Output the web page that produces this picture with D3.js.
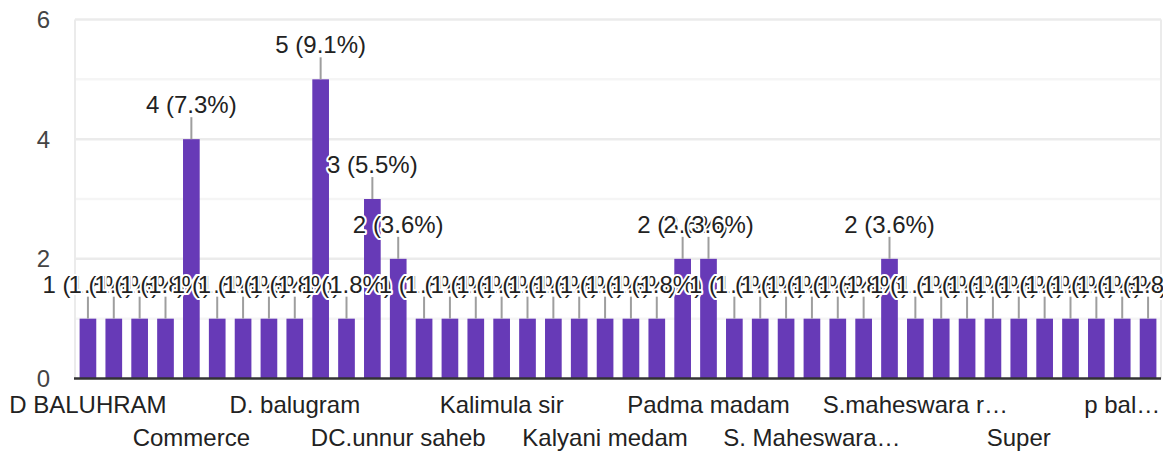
<script src="https://d3js.org/d3.v7.min.js"></script>
<style>
  body { margin: 0; background: #fff; }
  text { font-family: "Liberation Sans", Arial, sans-serif; }
</style>
<svg id="vis"></svg>
<script>
  // Data Setup
  var categories = [
    'D BALUHRAM', 'Balugram sir', 'Bhaskar sir', 'Chandra sir', 'Commerce',
    'D Balugram', 'D. Balugram sir', 'D. Baluhram', 'D. balugram', 'D.Balugram',
    'D.balugram sir', 'DC Unnur saheb', 'DC.unnur saheb', 'Economics', 'English',
    'Kalimula', 'Kalimula sir', 'Kalimulla sir', 'Kalyani madam', 'Kalyani mam',
    'Kalyani medam', 'Lakshmi madam', 'Maheswara reddy', 'Padma', 'Padma madam',
    'Padma mam', 'Ramesh sir', 'S Maheswara reddy', 'S. Maheswara reddy', 'S. maheswara sir',
    'S.Maheswara', 'S.maheswara reddy', 'S.maheswara reddy sir', 'Statistics', 'Sudha madam',
    'Sunitha madam', 'Super', 'Telugu', 'Unnur saheb', 'Venkatesh sir',
    'p balugram', 'unnur saheb sir'
  ];
  var counts = [
    1, 1, 1, 1, 4, 1, 1, 1, 1, 5,
    1, 3, 2, 1, 1, 1, 1, 1, 1, 1,
    1, 1, 1, 2, 2, 1, 1, 1, 1, 1,
    1, 2, 1, 1, 1, 1, 1, 1, 1, 1,
    1, 1
  ];
  var yTicks = [0, 2, 4, 6];
  var gridValues = [1, 2, 3, 4, 5, 6];

  var total = d3.sum(counts);
  var W = 1168, H = 455;
  var plotL = 75, plotR = 1161, plotT = 19.5, plotB = 378.5;

  var svg = d3.select('#vis')
    .attr('width', W)
    .attr('height', H);

  // labels get clipped just past the plot's right edge
  svg.append('clipPath').attr('id', 'labelClip')
    .append('rect')
    .attr('x', 0).attr('y', 0)
    .attr('width', plotR + 2).attr('height', H);

  var x = d3.scaleBand()
    .domain(d3.range(categories.length))
    .range([plotL, plotR])
    .paddingInner(0.355)
    .paddingOuter(0.1775);

  var y = d3.scaleLinear()
    .domain([0, 6])
    .range([plotB, plotT]);

  // gridlines
  svg.selectAll('.grid')
    .data(gridValues)
    .enter().append('line')
    .attr('x1', plotL).attr('x2', plotR)
    .attr('y1', function(d) { return y(d) })
    .attr('y2', function(d) { return y(d) })
    .attr('stroke', function(d) { return d % 2 === 0 ? '#ebebeb' : '#f5f5f5' })
    .attr('stroke-width', 2.5);

  // frame sides
  svg.selectAll('.side')
    .data([plotL, plotR])
    .enter().append('line')
    .attr('x1', function(d) { return d }).attr('x2', function(d) { return d })
    .attr('y1', plotT).attr('y2', plotB)
    .attr('stroke', '#ebebeb')
    .attr('stroke-width', 2);

  // y labels
  svg.selectAll('.ylab')
    .data(yTicks)
    .enter().append('text')
    .attr('x', 50)
    .attr('y', function(d) { return y(d) + 8.6 })
    .attr('text-anchor', 'end')
    .attr('font-size', 24)
    .attr('fill', '#444')
    .text(function(d) { return d });

  // bars
  svg.selectAll('.bar')
    .data(counts)
    .enter().append('rect')
    .attr('x', function(d, i) { return x(i) })
    .attr('y', function(d) { return y(d) })
    .attr('width', x.bandwidth())
    .attr('height', function(d) { return y(0) - y(d) })
    .attr('fill', '#673ab7');

  // zero axis
  svg.append('line')
    .attr('x1', plotL - 1).attr('x2', plotR)
    .attr('y1', y(0)).attr('y2', y(0))
    .attr('stroke', '#333')
    .attr('stroke-width', 2.5);

  // leader lines
  svg.selectAll('.lead')
    .data(counts)
    .enter().append('line')
    .attr('x1', function(d, i) { return x(i) + x.bandwidth() / 2 })
    .attr('x2', function(d, i) { return x(i) + x.bandwidth() / 2 })
    .attr('y1', function(d) { return y(d) })
    .attr('y2', function(d) { return y(d) - 22 })
    .attr('stroke', '#9e9e9e')
    .attr('stroke-width', 2);

  // data labels with white halo
  var labelG = svg.append('g').attr('clip-path', 'url(#labelClip)');
  counts.forEach(function(d, i) {
    labelG.append('text')
      .attr('x', x(i) + x.bandwidth() / 2)
      .attr('y', y(d) - 26)
      .attr('text-anchor', 'middle')
      .attr('font-size', 24)
      .attr('fill', '#222')
      .attr('stroke', '#fff')
      .attr('stroke-width', 4)
      .attr('stroke-linejoin', 'round')
      .attr('paint-order', 'stroke')
      .text(d + ' (' + (d / total * 100).toFixed(1) + '%)');
  });

  // x labels: every 4th category, alternating two rows, truncated to fit
  categories.forEach(function(name, i) {
    if (i % 4 !== 0) return;
    var cx = x(i) + x.bandwidth() / 2;
    var row = (i / 4) % 2;
    var maxW = Math.min(188, 2 * (plotR + 3 - cx), 2 * cx);
    var t = svg.append('text')
      .attr('x', cx)
      .attr('y', row === 0 ? 413.3 : 445.5)
      .attr('text-anchor', 'middle')
      .attr('font-size', 24)
      .attr('fill', '#222')
      .text(name);
    var s = name;
    while (t.node().getComputedTextLength() > maxW && s.length > 1) {
      s = s.slice(0, -1).replace(/\s+$/, '');
      t.text(s + '\u2026');
    }
  });
</script>
